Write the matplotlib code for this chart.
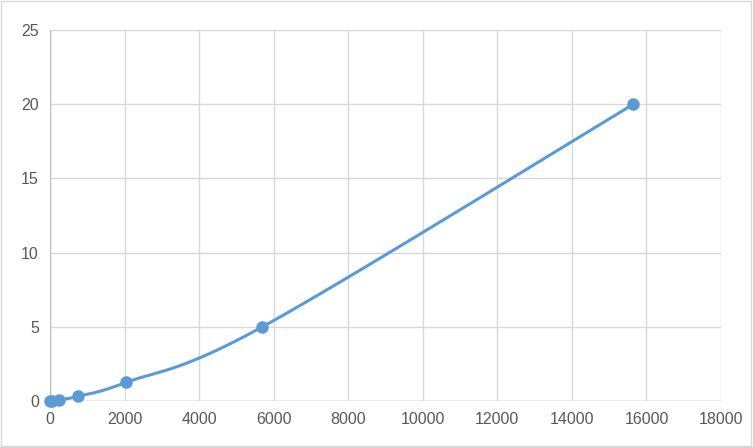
import matplotlib
matplotlib.use('Agg')
import matplotlib.pyplot as plt
import numpy as np

# данные с графика
conc = [0, 60, 250, 740, 2040, 5700, 15650]
od = [0, 0.02, 0.08, 0.31, 1.25, 5.0, 20.0]
xticks = list(range(0, 18001, 2000))
yticks = list(range(0, 26, 5))

line_color = '#5b9bd5'
grid_color = '#d9d9d9'
text_color = '#595959'


def smooth(xs, ys, xmax, ymax, n=40):
    # сглаживание как в Excel (кривые Безье), считаем в нормированных координатах
    px = np.array(xs) / xmax
    py = np.array(ys) / ymax
    outx, outy = [], []
    k = len(px)
    for i in range(k - 1):
        p0 = np.array([px[max(i - 1, 0)], py[max(i - 1, 0)]])
        p1 = np.array([px[i], py[i]])
        p2 = np.array([px[i + 1], py[i + 1]])
        p3 = np.array([px[min(i + 2, k - 1)], py[min(i + 2, k - 1)]])
        c1 = p1 + (p2 - p0) / 6
        c2 = p2 - (p3 - p1) / 6
        t = np.linspace(0, 1, n)[:, None]
        b = (1 - t) ** 3 * p1 + 3 * (1 - t) ** 2 * t * c1 + 3 * (1 - t) * t ** 2 * c2 + t ** 3 * p2
        outx.extend(b[:, 0])
        outy.extend(b[:, 1])
    return np.array(outx) * xmax, np.array(outy) * ymax


fig = plt.figure(figsize=(7.53, 4.47), dpi=100)
ax = fig.add_axes([50 / 753, 1 - 401 / 447, 671 / 753, 371 / 447])

sx, sy = smooth(conc, od, 18000, 25)
ax.plot(sx, sy, color=line_color, linewidth=2.2, zorder=3, clip_on=False)
ax.plot(conc, od, 'o', color=line_color, markersize=8, zorder=4, clip_on=False)

ax.set_xlim(0, 18000)
ax.set_ylim(0, 25)
ax.set_xticks(xticks)
ax.set_yticks(yticks)
ax.grid(True, color=grid_color, linewidth=1)
for s in ax.spines.values():
    s.set_visible(False)
ax.axhline(0, color='#bfbfbf', linewidth=1, zorder=2)
ax.axvline(0, color='#bfbfbf', linewidth=1, zorder=2)
ax.tick_params(length=0, labelsize=11.5, labelcolor=text_color, pad=8)
for lab in ax.get_xticklabels() + ax.get_yticklabels():
    lab.set_fontfamily('Liberation Sans')

# рамка вокруг всей картинки
fig.patches.append(plt.Rectangle((0.001, 0.002), 0.997, 0.995, transform=fig.transFigure,
                                 fill=False, edgecolor='#d9d9d9', linewidth=1))

plt.savefig('out.png', dpi=100)
